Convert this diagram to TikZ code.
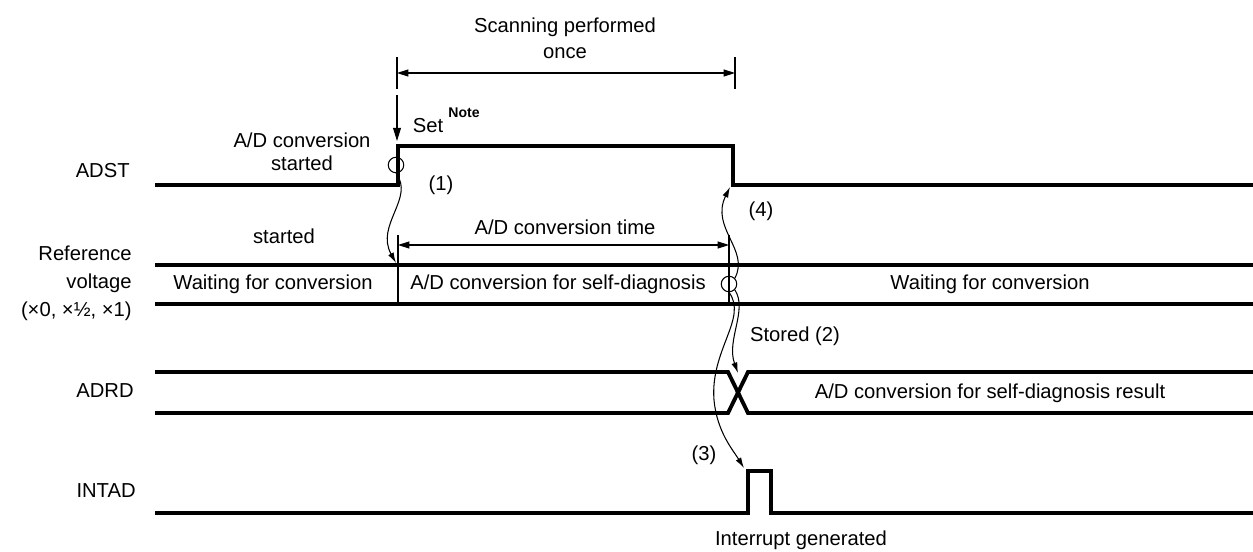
\documentclass[tikz,border=0pt]{standalone}
\usepackage{fontspec}
\setmainfont{Liberation Sans}
\usetikzlibrary{positioning,arrows.meta}

\newcommand{\sigfont}{\fontsize{11.5}{16}\selectfont}

\begin{document}
\begin{tikzpicture}[
			x=0.02cm, y=-0.02cm,
			sig/.style={line width=2.2pt, line join=miter},
			thin/.style={line width=0.6pt},
			signame/.style={anchor=east, align=right, font=\sigfont, inner sep=0pt},
			txt/.style={font=\sigfont, inner sep=0pt, align=center},
			ring/.style={circle, draw, line width=0.6pt, minimum size=0.31cm, inner sep=0pt},
			arrow/.style={-{Latex[length=6pt,width=3.5pt]}, line width=0.6pt},
			dim/.style={{Triangle[length=6.5pt,width=4pt]}-{Triangle[length=6.5pt,width=4pt]}, line width=0.6pt}
		]
		\useasboundingbox (0,0) rectangle (1253,551);

		% signal names
		\node[signame] (nadst) at (130,171) {ADST};
		\node[signame] (nref) at (132,283) {Reference\\voltage\\(×0, ×½, ×1)};
		\node[signame] (nadrd) at (134,391) {ADRD};
		\node[signame] (nintad) at (136,491) {INTAD};

		% ADST
		\draw[sig] (155,185) -- (398,185) -- (398,146) -- (733,146) -- (733,185) -- (1253,185);

		% reference voltage bus
		\draw[sig] (155,265) -- (1253,265);
		\draw[sig] (155,304) -- (1253,304);
		\draw[thin] (398,235) -- (398,304);
		\draw[thin] (729,235) -- (729,304);

		% ADRD bus
		\draw[sig] (155,372) -- (728,372) -- (748,413) -- (1253,413);
		\draw[sig] (155,413) -- (728,413) -- (748,372) -- (1253,372);

		% INTAD
		\draw[sig] (155,513) -- (748,513) -- (748,471) -- (771,471) -- (771,513) -- (1253,513);

		% scanning period
		\draw[thin] (397,57) -- (397,89);
		\draw[thin] (735,57) -- (735,89);
		\coordinate (scanl) at (397,73);
		\coordinate (scanr) at (735,73);
		\draw[dim] (scanl) -- (scanr);
		\node[txt] (scan) at (565,38) {Scanning performed\\[-1pt]once};

		% set
		\coordinate (settop) at (397,95);
		\coordinate (setbot) at (397,141);
		\draw[-{Triangle[length=7.5pt,width=4.5pt]}, thin] (settop) -- (setbot);
		\node[txt] (set) at (428,126) {Set};
		\node[font=\fontsize{8}{9}\selectfont\bfseries, inner sep=0pt] (note) at (464,113) {Note};
		\node[txt] (started1) at (302,152) {A/D conversion\\[-3pt]started};

		% conversion time
		\coordinate (convl) at (398,245);
		\coordinate (convr) at (729,245);
		\draw[dim] (convl) -- (convr);
		\node[txt] (convtime) at (565,227) {A/D conversion time};
		\node[txt] (started2) at (284,236) {started};

		% bus texts
		\node[txt] (wait1) at (273,284) {Waiting for conversion};
		\node[txt] (selfdiag) at (558,284) {A/D conversion for self-diagnosis};
		\node[txt] (wait2) at (990,284) {Waiting for conversion};
		\node[txt] (result) at (990,393) {A/D conversion for self-diagnosis result};

		% event marks
		\node[ring] (c1) at (396,165) {};
		\node[ring] (c2) at (729,284) {};
		\coordinate (refstart) at (396,263);
		\coordinate (adstfall) at (730,187);
		\coordinate (cross) at (738,373);
		\coordinate (pulse) at (744,468);

		\draw[arrow] (c1.south) .. controls (415,198) and (375,225) .. (refstart);
		\draw[arrow] (c2.north east) .. controls (750,250) and (710,228) .. (adstfall);
		\draw[arrow] (c2.south east) .. controls (748,310) and (726,340) .. (cross);
		\draw[arrow] (c2.south) .. controls (748,318) and (710,350) .. (714,400) .. controls (717,432) and (733,450) .. (pulse);

		% step labels
		\node[txt] (s1) at (441,185) {(1)};
		\node[txt] (s2) at (795,336) {Stored (2)};
		\node[txt] (s3) at (704,455) {(3)};
		\node[txt] (s4) at (761,211) {(4)};
		\node[txt] (intgen) at (801,540) {Interrupt generated};
	\end{tikzpicture}
\end{document}
